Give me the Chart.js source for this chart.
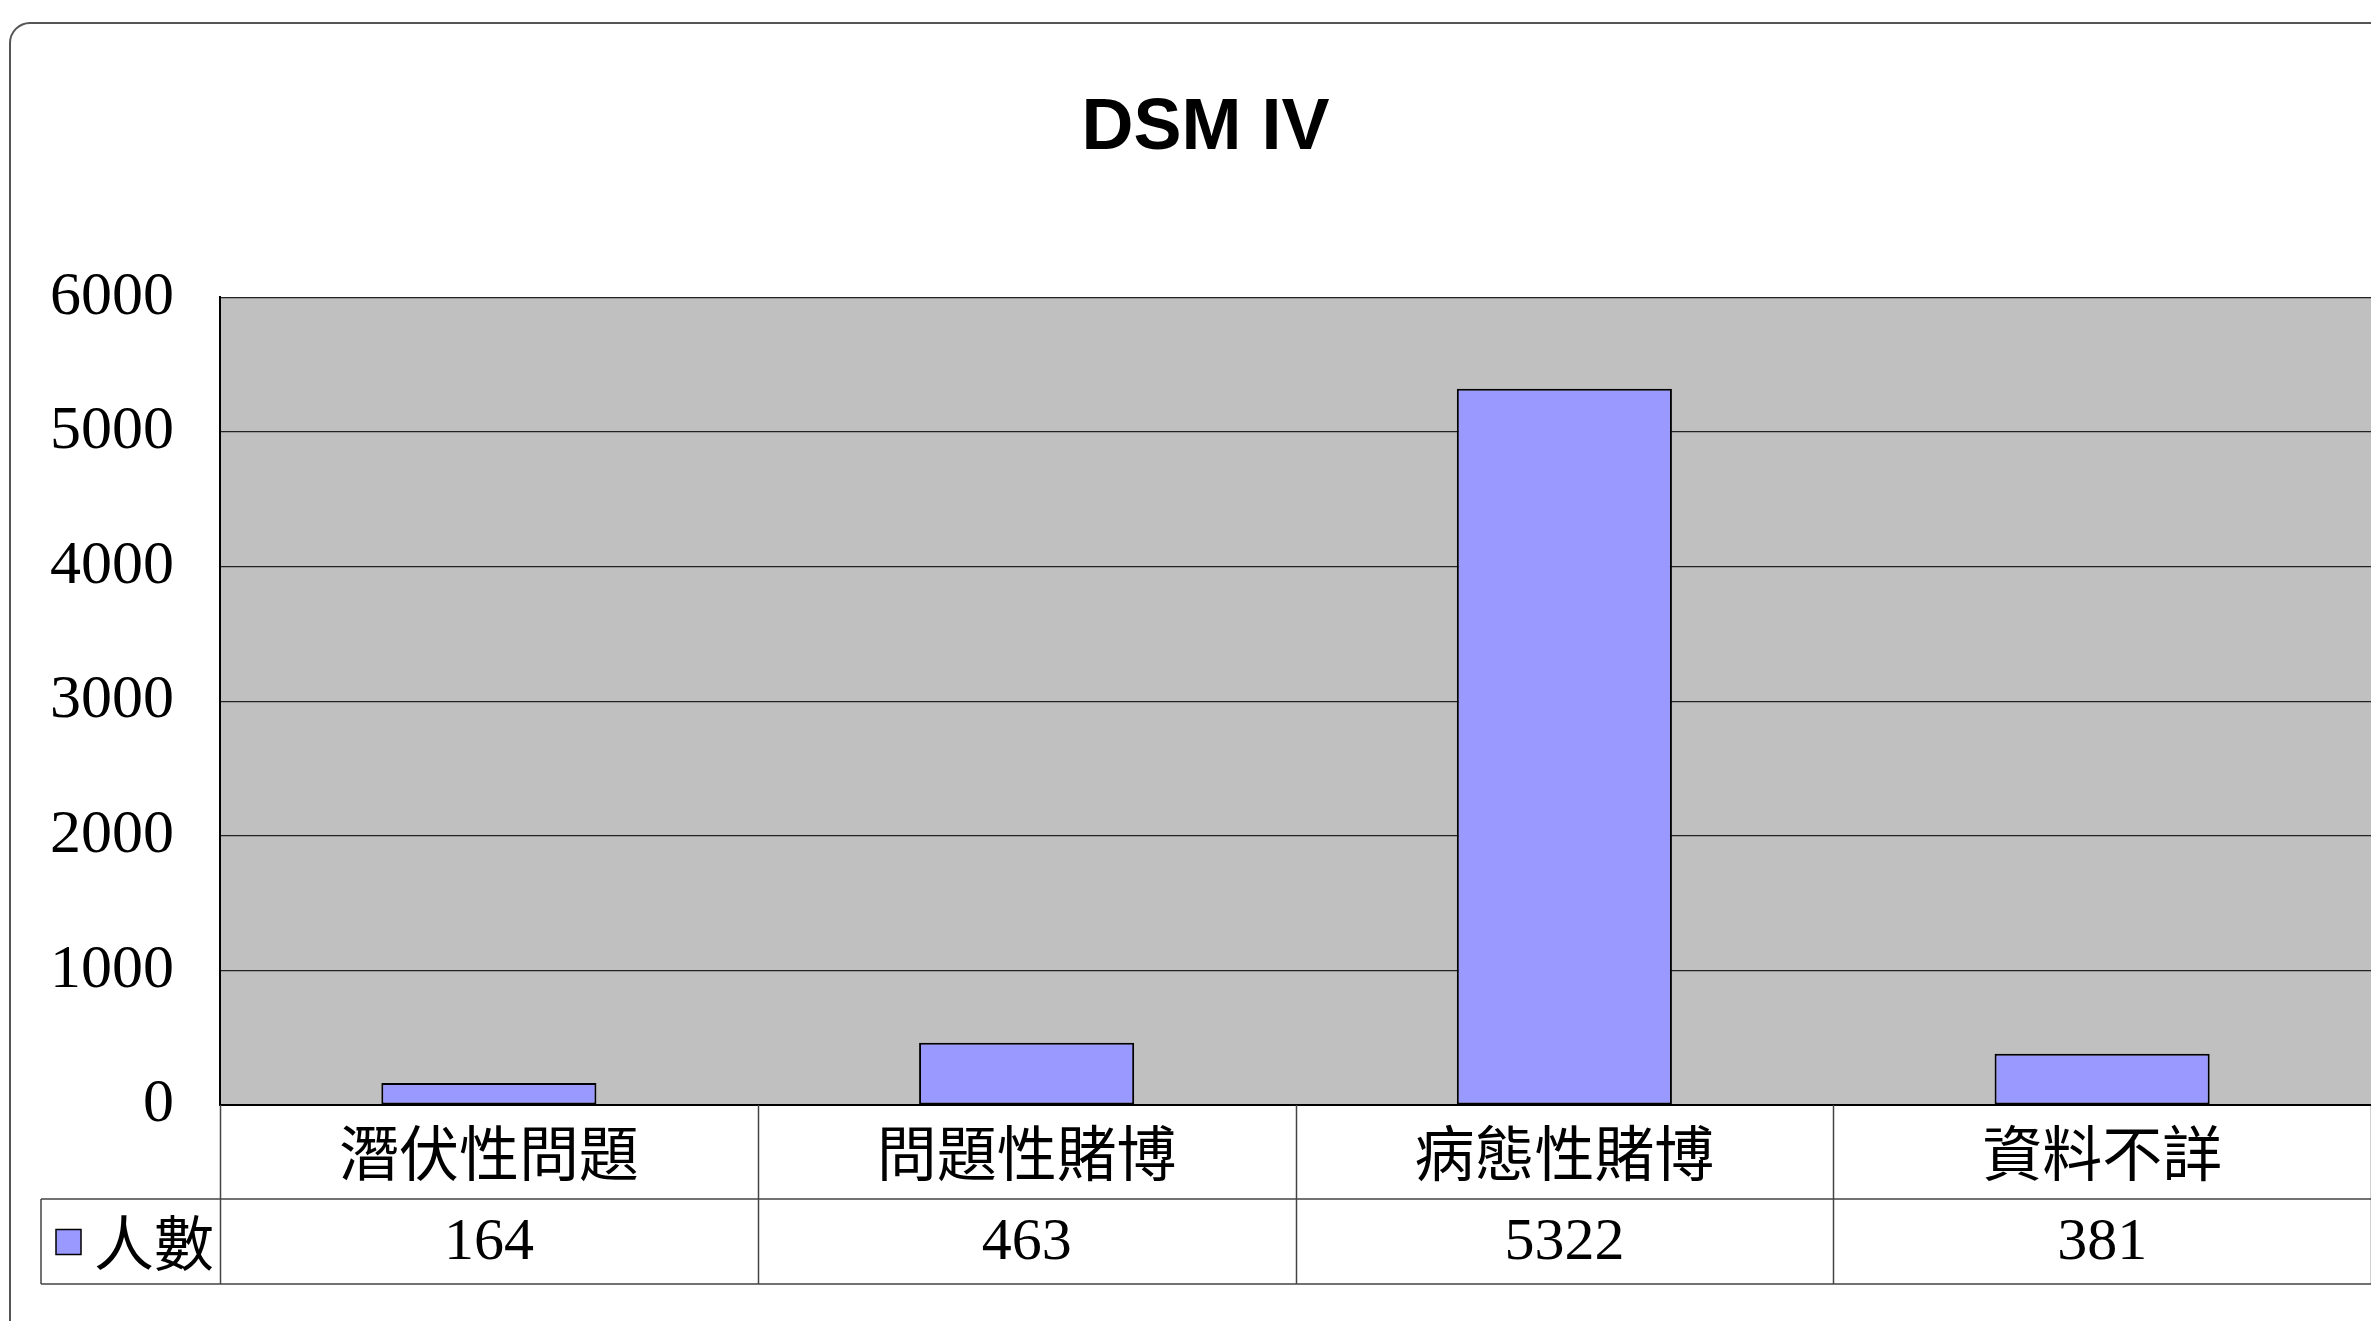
<!DOCTYPE html>
<html>
<head>
<meta charset="utf-8">
<script src="https://cdn.jsdelivr.net/npm/chart.js@4/dist/chart.umd.min.js"></script>
<style>
  html, body { margin: 0; padding: 0; background: #fff; }
  #wrap { width: 2371px; height: 1321px; position: relative; }
</style>
</head>
<body>
<div id="wrap"><canvas id="dsmChart" width="2371" height="1321"></canvas></div>
<script>
// ---- data ----
const chartTitle = 'DSM IV';
const categories = ['潛伏性問題', '問題性賭博', '病態性賭博', '資料不詳'];
const seriesLabel = '人數';
const counts = [164, 463, 5322, 381];
const yMin = 0;
const yMax = 6000;
const yStep = 1000;

const BAR_COLOR = '#9999FF';
const PLOT_BG = '#C0C0C0';
const SERIF = '"Liberation Serif", "Noto Sans CJK TC", serif';
const CJK = '"Noto Sans CJK TC", "Liberation Serif", sans-serif';

// frame, grey plot area, data table under the axis
const tablePlugin = {
    id: 'tablePlugin',
    beforeDraw(chart) {
        const { ctx, chartArea } = chart;
        ctx.save();
        ctx.fillStyle = '#fff';
        ctx.fillRect(0, 0, chart.width, chart.height);

        // rounded outer frame (runs off right and bottom)
        const fx = 10, fy = 23, r = 20;
        ctx.strokeStyle = '#555';
        ctx.lineWidth = 2;
        ctx.beginPath();
        ctx.moveTo(fx, chart.height + 5);
        ctx.lineTo(fx, fy + r);
        ctx.arcTo(fx, fy, fx + r, fy, r);
        ctx.lineTo(chart.width + 5, fy);
        ctx.stroke();

        ctx.fillStyle = PLOT_BG;
        ctx.fillRect(chartArea.left, chartArea.top, chartArea.right - chartArea.left, chartArea.bottom - chartArea.top);
        ctx.restore();
    },
    afterDraw(chart) {
        const { ctx } = chart;
        const xs = chart.scales.x;
        const ys = chart.scales.y;
        const n = categories.length;
        const colW = xs.width / n;
        const rowTop = xs.top;
        const midLine = xs.top + 94;
        const rowBottom = xs.bottom;
        const legendLeft = ys.left + 1;

        ctx.save();
        ctx.strokeStyle = '#444';
        ctx.lineWidth = 1.5;
        ctx.beginPath();
        // vertical separators
        for (let i = 0; i <= n; i++) {
            const x = Math.round(xs.getPixelForValue(i) - colW / 2) + 0.5;
            ctx.moveTo(x, rowTop);
            ctx.lineTo(x, rowBottom);
        }
        // value row box incl. legend cell
        ctx.moveTo(legendLeft, midLine);
        ctx.lineTo(xs.right + 5, midLine);
        ctx.moveTo(legendLeft, rowBottom);
        ctx.lineTo(xs.right + 5, rowBottom);
        ctx.moveTo(legendLeft, midLine);
        ctx.lineTo(legendLeft, rowBottom);
        ctx.stroke();

        // values
        const valY = (midLine + rowBottom) / 2 + 2;
        ctx.fillStyle = '#000';
        ctx.textAlign = 'center';
        ctx.textBaseline = 'middle';
        ctx.font = '60px ' + SERIF;
        const ds = chart.data.datasets[0];
        ds.data.forEach((v, i) => {
            ctx.fillText(String(v), xs.getPixelForValue(i), valY);
        });

        // legend key
        ctx.fillStyle = ds.backgroundColor;
        ctx.strokeStyle = '#000';
        ctx.lineWidth = 1.5;
        ctx.fillRect(legendLeft + 15, valY - 14, 25, 25);
        ctx.strokeRect(legendLeft + 15, valY - 14, 25, 25);
        ctx.fillStyle = '#000';
        ctx.textAlign = 'left';
        ctx.font = '60px ' + CJK;
        ctx.fillText(ds.label, legendLeft + 53, valY);
        ctx.restore();
    }
};

const initChart = () => {
    const ctx = document.getElementById('dsmChart').getContext('2d');
    new Chart(ctx, {
        type: 'bar',
        data: {
            labels: categories,
            datasets: [{
                label: seriesLabel,
                data: counts,
                backgroundColor: BAR_COLOR,
                borderColor: '#000',
                borderWidth: 2,
                borderSkipped: false,
                barPercentage: 0.4,
                categoryPercentage: 1.0
            }]
        },
        options: {
            responsive: false,
            animation: false,
            layout: { padding: { left: 40, right: 0, top: 0, bottom: 37 } },
            plugins: {
                legend: { display: false },
                tooltip: { enabled: false },
                title: {
                    display: true,
                    text: chartTitle,
                    color: '#000',
                    font: { family: '"Liberation Sans", Arial, sans-serif', size: 72, weight: 'bold', lineHeight: 1.2 },
                    padding: { top: 86, bottom: 125 }
                }
            },
            scales: {
                x: {
                    grid: { display: false },
                    border: { display: true, color: '#000', width: 2 },
                    ticks: {
                        color: '#000',
                        font: { family: CJK, size: 60 },
                        padding: 4,
                        maxRotation: 0,
                        autoSkip: false
                    },
                    afterFit(scale) { scale.height = 179; }
                },
                y: {
                    min: yMin,
                    max: yMax,
                    grid: { color: '#222', lineWidth: 1.2, drawTicks: false },
                    border: { display: true, color: '#000', width: 2 },
                    ticks: {
                        stepSize: yStep,
                        color: '#000',
                        font: { family: SERIF, size: 62 },
                        padding: 46,
                        callback: (v) => String(v)
                    },
                    afterFit(scale) { scale.width = 180; }
                }
            }
        },
        plugins: [tablePlugin]
    });
};

initChart();
</script>
</body>
</html>
